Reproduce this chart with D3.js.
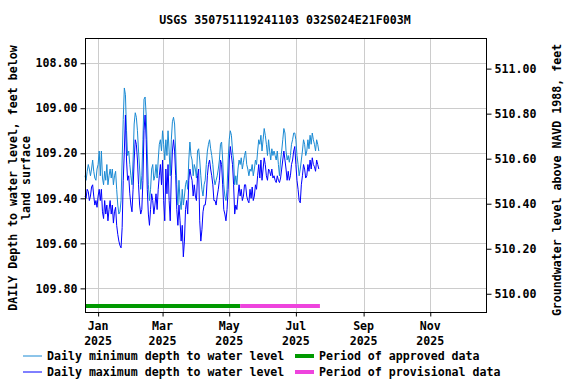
<!DOCTYPE html>
<html>
<head>
<meta charset="utf-8">
<script src="https://cdn.jsdelivr.net/npm/d3@7"></script>
<style>
  body { margin: 0; background: #fff; }
  text { font-family: "DejaVu Sans Mono", monospace; font-weight: bold; font-size: 11.6px; fill: #000; }
</style>
</head>
<body>
<div id="container"></div>
<script>
const title = "USGS 350751119241103 032S024E21F003M";
const startDate = new Date(2024, 11, 20);
const datum = 619.824; // land surface elevation, depth -> NAVD 1988

// daily minimum depth to water (ft below land surface)
const minDepth = [
  109.30,109.32,109.28,109.25,109.27,109.30,109.27,109.23,109.28,109.31,
  109.32,109.27,109.25,109.19,109.30,
  109.19,109.31,109.34,109.28,109.32,109.25,109.34,109.30,109.27,
  109.31,109.27,109.34,109.30,109.28,109.36,109.43,109.47,
  109.46,109.41,109.23,109.05,108.91,
  108.94,109.10,109.21,109.19,
  109.25,109.30,109.34,109.23,109.07,109.02,109.04,109.10,109.19,109.27,
  109.36,109.30,109.14,108.96,
  108.95,109.03,109.19,109.34,109.41,
  109.36,109.27,109.25,109.32,109.30,109.25,109.31,109.23,109.16,
  109.14,109.19,109.10,109.16,109.23,
  109.14,109.21,109.10,109.19,109.30,109.14,109.06,109.04,109.07,
  109.19,109.34,109.43,109.32,109.41,109.45,109.36,109.43,
  109.39,109.34,109.32,109.36,109.23,109.15,
  109.21,109.23,109.30,109.25,109.27,109.31,109.19,109.18,
  109.23,109.30,109.36,109.39,109.34,
  109.32,109.25,109.19,109.16,109.14,109.18,109.21,109.25,109.31,
  109.34,109.32,109.30,109.27,109.23,109.16,
  109.15,109.23,109.34,109.39,109.41,109.36,
  109.23,109.14,109.10,109.12,109.19,109.23,109.34,
  109.30,109.34,109.27,109.23,109.25,109.22,109.27,109.24,109.21,
  109.19,109.25,109.27,109.30,109.27,109.28,109.25,109.30,109.27,
  109.23,109.25,109.19,109.14,109.16,109.12,109.19,109.14,109.09,
  109.12,109.16,109.21,109.14,109.19,109.23,109.18,109.21,109.19,
  109.21,109.23,109.19,109.25,109.30,109.23,109.19,109.14,109.09,
  109.11,109.19,109.23,109.21,109.24,109.21,109.16,109.14,109.11,
  109.11,109.14,109.21,109.25,109.30,109.27,109.23,109.19,109.14,
  109.16,109.21,109.19,109.14,109.18,109.12,109.16,109.11,109.14,
  109.16,109.19,109.14,109.16,109.19
];

// daily maximum depth to water (ft below land surface)
const maxDepth = [
  109.39,109.40,109.36,109.37,109.41,109.39,109.35,109.34,109.39,109.43,
  109.41,109.44,109.39,109.36,109.41,
  109.36,109.46,109.49,109.41,109.47,109.43,109.50,109.45,109.41,
  109.47,109.43,109.51,109.46,109.44,109.52,109.56,109.59,
  109.61,109.62,109.53,109.32,109.19,
  109.03,109.23,109.32,109.30,
  109.38,109.43,109.46,109.36,109.23,109.14,109.16,109.23,109.34,109.43,
  109.47,109.45,109.32,109.10,
  109.03,109.14,109.36,109.47,109.52,
  109.45,109.38,109.41,109.47,109.43,109.38,109.45,109.36,109.30,
  109.25,109.34,109.23,109.41,109.50,
  109.27,109.38,109.25,109.41,109.50,109.30,109.19,109.14,109.19,
  109.30,109.45,109.52,109.43,109.50,109.59,109.52,109.66,
  109.59,109.45,109.41,109.47,109.32,109.27,
  109.30,109.32,109.39,109.34,109.39,109.41,109.30,109.27,
  109.50,109.59,109.54,109.46,109.43,
  109.43,109.39,109.30,109.25,109.23,109.27,109.30,109.34,109.41,
  109.41,109.43,109.39,109.36,109.32,109.23,
  109.25,109.34,109.45,109.47,109.50,109.45,
  109.36,109.23,109.17,109.21,109.25,109.34,109.47,
  109.43,109.45,109.39,109.34,109.39,109.36,109.41,109.39,109.34,
  109.34,109.39,109.41,109.42,109.36,109.40,109.35,109.41,109.39,
  109.34,109.36,109.30,109.25,109.31,109.23,109.32,109.27,109.22,
  109.25,109.30,109.32,109.27,109.28,109.30,109.27,109.31,109.30,
  109.32,109.33,109.30,109.32,109.33,109.31,109.27,109.23,109.19,
  109.23,109.27,109.32,109.28,109.32,109.30,109.25,109.23,109.19,
  109.17,109.25,109.32,109.36,109.41,109.42,109.34,109.30,109.25,
  109.27,109.31,109.30,109.25,109.28,109.23,109.27,109.22,109.25,
  109.26,109.28,109.23,109.25,109.27
];

const depthTicks = [108.8, 109.0, 109.2, 109.4, 109.6, 109.8];
const elevTicks = [510.0, 510.2, 510.4, 510.6, 510.8, 511.0];
const monthTicks = [new Date(2025, 0, 1), new Date(2025, 2, 1), new Date(2025, 4, 1),
                    new Date(2025, 6, 1), new Date(2025, 8, 1), new Date(2025, 10, 1)];
const approvedPeriod = [new Date(2024, 11, 20), new Date(2025, 4, 11)];
const provisionalPeriod = [new Date(2025, 4, 11), new Date(2025, 6, 23)];

const width = 576;
const height = 384;
const plotLeft = 85, plotRight = 486, plotTop = 38, plotBottom = 312;

const svg = d3
  .select("#container")
  .append("svg")
  .attr("width", width)
  .attr("height", height);

svg.append("rect").attr("width", width).attr("height", height).attr("fill", "#fff");

const xScale = d3
  .scaleTime()
  .domain([new Date(2024, 11, 20), new Date(2025, 11, 22)])
  .range([plotLeft, plotRight]);

const yScale = d3.scaleLinear().domain([108.688, 109.905]).range([plotTop, plotBottom]);
const yRight = d3
  .scaleLinear()
  .domain([datum - 108.688, datum - 109.905])
  .range([plotTop, plotBottom]);

// grid
svg
  .append("g")
  .selectAll("line")
  .data(depthTicks)
  .enter()
  .append("line")
  .attr("x1", plotLeft)
  .attr("x2", plotRight)
  .attr("y1", (d) => Math.round(yScale(d)) + 0.5)
  .attr("y2", (d) => Math.round(yScale(d)) + 0.5)
  .attr("stroke", "#cccccc");

svg
  .append("g")
  .selectAll("line")
  .data(monthTicks)
  .enter()
  .append("line")
  .attr("x1", (d) => Math.round(xScale(d)) + 0.5)
  .attr("x2", (d) => Math.round(xScale(d)) + 0.5)
  .attr("y1", plotTop)
  .attr("y2", plotBottom)
  .attr("stroke", "#cccccc");

// data lines
const days = minDepth.map((d, i) => d3.timeDay.offset(startDate, i));

const line = d3
  .line()
  .x((d, i) => xScale(days[i]))
  .y((d) => yScale(d));

svg
  .append("path")
  .datum(minDepth)
  .attr("d", line)
  .attr("fill", "none")
  .attr("stroke", "#1a8ad4")
  .attr("stroke-width", 1);

svg
  .append("path")
  .datum(maxDepth)
  .attr("d", line)
  .attr("fill", "none")
  .attr("stroke", "#0000ff")
  .attr("stroke-width", 1);

// approval periods
const barY = 306;
svg
  .append("line")
  .attr("x1", xScale(approvedPeriod[0]))
  .attr("x2", xScale(approvedPeriod[1]))
  .attr("y1", barY)
  .attr("y2", barY)
  .attr("stroke", "#009900")
  .attr("stroke-width", 4);
svg
  .append("line")
  .attr("x1", xScale(provisionalPeriod[0]))
  .attr("x2", xScale(provisionalPeriod[1]))
  .attr("y1", barY)
  .attr("y2", barY)
  .attr("stroke", "#ee44dd")
  .attr("stroke-width", 4);

// frame
svg
  .append("rect")
  .attr("x", plotLeft + 0.5)
  .attr("y", plotTop + 0.5)
  .attr("width", plotRight - plotLeft)
  .attr("height", plotBottom - plotTop)
  .attr("fill", "none")
  .attr("stroke", "#000");

// axes
const yAxis = d3
  .axisLeft(yScale)
  .tickValues(depthTicks)
  .tickSize(5)
  .tickPadding(3)
  .tickFormat(d3.format(".2f"));
svg
  .append("g")
  .attr("transform", `translate(${plotLeft + 0.5}, 0)`)
  .call(yAxis)
  .call((g) => g.select(".domain").remove())
  .call((g) => g.selectAll("text").attr("font-size", null).attr("font-family", null));

const yAxisRight = d3
  .axisRight(yRight)
  .tickValues(elevTicks)
  .tickSize(5)
  .tickPadding(3)
  .tickFormat(d3.format(".2f"));
svg
  .append("g")
  .attr("transform", `translate(${plotRight + 0.5}, 0)`)
  .call(yAxisRight)
  .call((g) => g.select(".domain").remove())
  .call((g) => g.selectAll("text").attr("font-size", null).attr("font-family", null));

const xAxis = d3
  .axisBottom(xScale)
  .tickValues(monthTicks)
  .tickSize(4)
  .tickFormat("");
svg
  .append("g")
  .attr("transform", `translate(0, ${plotBottom + 0.5})`)
  .call(xAxis)
  .call((g) => g.select(".domain").remove());

const xLabels = svg.append("g").selectAll("g").data(monthTicks).enter().append("g");
xLabels
  .append("text")
  .attr("x", (d) => xScale(d))
  .attr("y", 330)
  .attr("text-anchor", "middle")
  .text((d) => d3.timeFormat("%b")(d));
xLabels
  .append("text")
  .attr("x", (d) => xScale(d))
  .attr("y", 345)
  .attr("text-anchor", "middle")
  .text((d) => d3.timeFormat("%Y")(d));

// titles
svg
  .append("text")
  .attr("x", 285)
  .attr("y", 24)
  .attr("text-anchor", "middle")
  .text(title);

svg
  .append("text")
  .attr("transform", "translate(17, 178) rotate(-90)")
  .attr("text-anchor", "middle")
  .text("DAILY Depth to water level, feet below");
svg
  .append("text")
  .attr("transform", "translate(30, 178) rotate(-90)")
  .attr("text-anchor", "middle")
  .text("land surface");
svg
  .append("text")
  .attr("transform", "translate(561, 180) rotate(-90)")
  .attr("text-anchor", "middle")
  .text("Groundwater level above NAVD 1988, feet");

// legend
const legendData = [
  { label: "Daily minimum depth to water level", color: "#1a8ad4", w: 1, x: 23, y: 356 },
  { label: "Daily maximum depth to water level", color: "#0000ff", w: 1, x: 23, y: 372 },
  { label: "Period of approved data", color: "#009900", w: 4, x: 295, y: 356 },
  { label: "Period of provisional data", color: "#ee44dd", w: 4, x: 295, y: 372 },
];
const legend = svg.append("g").selectAll("g").data(legendData).enter().append("g");
legend
  .append("line")
  .attr("x1", (d) => d.x)
  .attr("x2", (d) => d.x + 19)
  .attr("y1", (d) => d.y)
  .attr("y2", (d) => d.y)
  .attr("stroke", (d) => d.color)
  .attr("stroke-width", (d) => d.w);
legend
  .append("text")
  .attr("x", (d) => d.x + 24)
  .attr("y", (d) => d.y + 4)
  .text((d) => d.label);
</script>
</body>
</html>
